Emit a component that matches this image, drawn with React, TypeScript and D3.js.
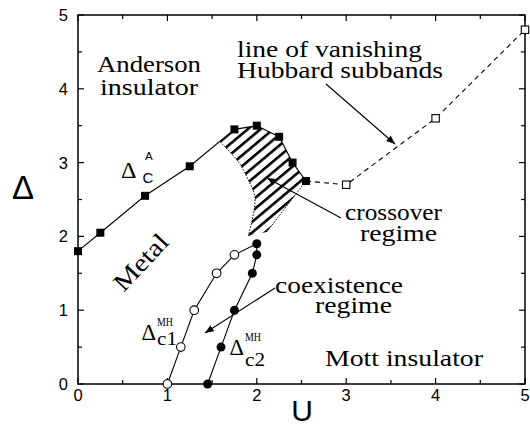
import React from 'react';
import * as d3 from 'd3';

const W = 530;
const H = 426;

// axes
const uTicks = [0, 1, 2, 3, 4, 5];
const deltaTicks = [0, 1, 2, 3, 4, 5];
const minorTicks = [0.5, 1.5, 2.5, 3.5, 4.5];

// Anderson transition line (filled squares)
const andersonU = [0, 0.25, 0.75, 1.25, 1.75, 2.0, 2.25, 2.4, 2.55];
const andersonD = [1.8, 2.05, 2.55, 2.95, 3.45, 3.5, 3.35, 3.0, 2.75];

// line of vanishing Hubbard subbands (open squares, dashed)
const hubbardU = [2.55, 3, 4, 5];
const hubbardD = [2.75, 2.7, 3.6, 4.8];

// Delta_c1^MH (open circles)
const c1U = [1.0, 1.15, 1.3, 1.55, 1.75];
const c1D = [0, 0.5, 1.0, 1.5, 1.75];
// line of c1 continues to the tip
const c1TipU = 2.0;
const c1TipD = 1.9;

// Delta_c2^MH (filled circles)
const c2U = [1.45, 1.6, 1.75, 1.95, 2.0, 2.0];
const c2D = [0, 0.5, 1.0, 1.5, 1.75, 1.9];

// crossover regime boundaries
const crossLeftU = [1.588, 1.793, 1.905, 1.98, 1.905];
const crossLeftD = [3.283, 3.012, 2.764, 2.52, 2.005];
const crossRightU = [2.55, 2.11];
const crossRightD = [2.75, 2.06];

const zip = (a: number[], b: number[]) => a.map((v, i) => [v, b[i]] as [number, number]);

export default function App() {
  const x = d3.scaleLinear().domain([0, 5]).range([78, 525]);
  const y = d3.scaleLinear().domain([0, 5]).range([384, 15]);
  const line = d3.line<[number, number]>().x(d => x(d[0])).y(d => y(d[1]));
  const curve = d3
    .line<[number, number]>()
    .x(d => x(d[0]))
    .y(d => y(d[1]))
    .curve(d3.curveCatmullRom.alpha(0.5));

  const anderson = zip(andersonU, andersonD);
  const hubbard = zip(hubbardU, hubbardD);
  const c1 = zip(c1U, c1D);
  const c2 = zip(c2U, c2D);
  const left = zip(crossLeftU, crossLeftD);
  const right = zip(crossRightU, crossRightD);

  const topPart = anderson.filter(d => d[0] >= 1.7).slice().reverse();
  const regionPath =
    (curve(left) as string) +
    ' L' + x(right[1][0]) + ',' + y(right[1][1]) +
    ' L' + x(right[0][0]) + ',' + y(right[0][1]) +
    topPart.map(d => ' L' + x(d[0]) + ',' + y(d[1])).join('') +
    ' Z';

  const serif = 'Liberation Serif, Tinos, Times New Roman, Times, serif';
  const sans = 'Liberation Sans, Arimo, Arial, Helvetica, sans-serif';
  const big = 23;
  const serifStyle = { fontFamily: serif } as React.CSSProperties;
  const sansStyle = { fontFamily: sans } as React.CSSProperties;

  const frameL = x(0), frameR = x(5), frameT = y(5), frameB = y(0);

  return (
    <svg width={W} height={H} style={{ position: 'absolute', left: 0, top: 0, background: '#fff' }}>
      <defs>
        <pattern id="hatch" width="10" height="8.2" patternUnits="userSpaceOnUse" patternTransform="rotate(-40)">
          <line x1={0} y1={4} x2={10} y2={4} stroke="#000" strokeWidth={2.6} />
        </pattern>
        <marker id="arrow" viewBox="0 0 10 8" refX="10" refY="4" markerWidth="9" markerHeight="7" markerUnits="userSpaceOnUse" orient="auto">
          <path d="M0,0 L10,4 L0,8 Z" fill="#000" />
        </marker>
      </defs>

      {/* hatch */}
      <path d={regionPath} fill="url(#hatch)" stroke="none" />
      {/* dotted boundaries */}
      <path d={curve(left) as string} fill="none" stroke="#000" strokeWidth={1} strokeDasharray="1.5,1.5" />
      <path d={line(right) as string} fill="none" stroke="#000" strokeWidth={1} strokeDasharray="1.5,1.5" />

      {/* frame */}
      <rect x={frameL} y={frameT} width={frameR - frameL} height={frameB - frameT} fill="none" stroke="#000" strokeWidth={1.5} />
      {/* ticks */}
      {uTicks.map(t => (
        <g key={'xt' + t}>
          <line x1={x(t)} x2={x(t)} y1={frameB} y2={frameB - 6} stroke="#000" strokeWidth={1.2} />
          <line x1={x(t)} x2={x(t)} y1={frameT} y2={frameT + 6} stroke="#000" strokeWidth={1.2} />
          <text x={x(t)} y={401} textAnchor="middle" style={sansStyle} fontSize={16.5}>{t}</text>
        </g>
      ))}
      {minorTicks.map(t => (
        <g key={'xm' + t}>
          <line x1={x(t)} x2={x(t)} y1={frameB} y2={frameB - 4} stroke="#000" strokeWidth={1.2} />
          <line x1={x(t)} x2={x(t)} y1={frameT} y2={frameT + 4} stroke="#000" strokeWidth={1.2} />
          <line x1={frameL} x2={frameL + 4} y1={y(t)} y2={y(t)} stroke="#000" strokeWidth={1.2} />
          <line x1={frameR} x2={frameR - 4} y1={y(t)} y2={y(t)} stroke="#000" strokeWidth={1.2} />
        </g>
      ))}
      {deltaTicks.map(t => (
        <g key={'yt' + t}>
          <line x1={frameL} x2={frameL + 6} y1={y(t)} y2={y(t)} stroke="#000" strokeWidth={1.2} />
          <line x1={frameR} x2={frameR - 6} y1={y(t)} y2={y(t)} stroke="#000" strokeWidth={1.2} />
          <text x={68} y={y(t) + 6} textAnchor="end" style={sansStyle} fontSize={16.5}>{t}</text>
        </g>
      ))}

      {/* axis titles */}
      <text x={23} y={199} textAnchor="middle" style={sansStyle} fontSize={33}>Δ</text>
      <text x={302} y={421} textAnchor="middle" style={sansStyle} fontSize={30}>U</text>

      {/* lines */}
      <path d={line(anderson) as string} fill="none" stroke="#000" strokeWidth={1.1} />
      <path d={line(hubbard) as string} fill="none" stroke="#000" strokeWidth={1.1} strokeDasharray="5,4" />
      <path d={line([...c1, [c1TipU, c1TipD]]) as string} fill="none" stroke="#000" strokeWidth={1.1} />
      <path d={line(c2) as string} fill="none" stroke="#000" strokeWidth={1.1} />

      {/* markers */}
      {anderson.map((d, i) => (
        <rect key={'a' + i} x={x(d[0]) - 4} y={y(d[1]) - 4} width={8} height={8} fill="#000" />
      ))}
      {hubbard.slice(1).map((d, i) => (
        <rect key={'h' + i} x={x(d[0]) - 3.7} y={y(d[1]) - 3.7} width={7.4} height={7.4} fill="#fff" stroke="#000" strokeWidth={1.1} />
      ))}
      {c1.map((d, i) => (
        <circle key={'c1' + i} cx={x(d[0])} cy={y(d[1])} r={4.3} fill="#fff" stroke="#000" strokeWidth={1.1} />
      ))}
      {c2.map((d, i) => (
        <circle key={'c2' + i} cx={x(d[0])} cy={y(d[1])} r={4.5} fill="#000" />
      ))}

      {/* arrows */}
      <line x1={326} y1={84} x2={395} y2={144} stroke="#000" strokeWidth={1.1} markerEnd="url(#arrow)" />
      <line x1={341} y1={218} x2={267} y2={178} stroke="#000" strokeWidth={1.1} markerEnd="url(#arrow)" />
      <line x1={275} y1={288} x2={205} y2={333} stroke="#000" strokeWidth={1.1} markerEnd="url(#arrow)" />

      {/* region labels */}
      <g style={serifStyle} fontSize={big} fill="#000">
        <text x={97} y={72} textLength={104} lengthAdjust="spacingAndGlyphs">Anderson</text>
        <text x={100} y={95} textLength={98} lengthAdjust="spacingAndGlyphs">insulator</text>
        <text x={237} y={56.5} textLength={185} lengthAdjust="spacingAndGlyphs">line of vanishing</text>
        <text x={237} y={78.3} textLength={206} lengthAdjust="spacingAndGlyphs">Hubbard subbands</text>
        <text x={345} y={220} textLength={97} lengthAdjust="spacingAndGlyphs">crossover</text>
        <text x={360} y={240.5} textLength={77} lengthAdjust="spacingAndGlyphs">regime</text>
        <text x={275} y={293.3} textLength={128} lengthAdjust="spacingAndGlyphs">coexistence</text>
        <text x={315} y={313.3} textLength={77} lengthAdjust="spacingAndGlyphs">regime</text>
        <text x={325} y={365.5} textLength={158} lengthAdjust="spacingAndGlyphs">Mott insulator</text>
        <text x={0} y={0} textAnchor="middle" fontSize={25} textLength={68} lengthAdjust="spacingAndGlyphs" transform="translate(147,268) rotate(-47)">Metal</text>

        {/* Delta_c^A */}
        <text x={121} y={178} fontSize={24}>Δ</text>
        <text x={145} y={160} style={sansStyle} fontSize={11.5}>A</text>
        <text x={142.5} y={182.5} style={sansStyle} fontSize={15}>C</text>

        {/* Delta_c1^MH */}
        <text x={141.5} y={339.5} fontSize={22.5}>Δ</text>
        <text x={157} y={345} fontSize={18.5} textLength={20} lengthAdjust="spacingAndGlyphs">c1</text>
        <text x={157} y={325.5} fontSize={11.5} textLength={16} lengthAdjust="spacingAndGlyphs">MH</text>

        {/* Delta_c2^MH */}
        <text x={229.5} y={354.5} fontSize={22.5}>Δ</text>
        <text x={245} y={366} fontSize={18.5} textLength={20} lengthAdjust="spacingAndGlyphs">c2</text>
        <text x={245} y={340.5} fontSize={11.5} textLength={16} lengthAdjust="spacingAndGlyphs">MH</text>
      </g>
    </svg>
  );
}
